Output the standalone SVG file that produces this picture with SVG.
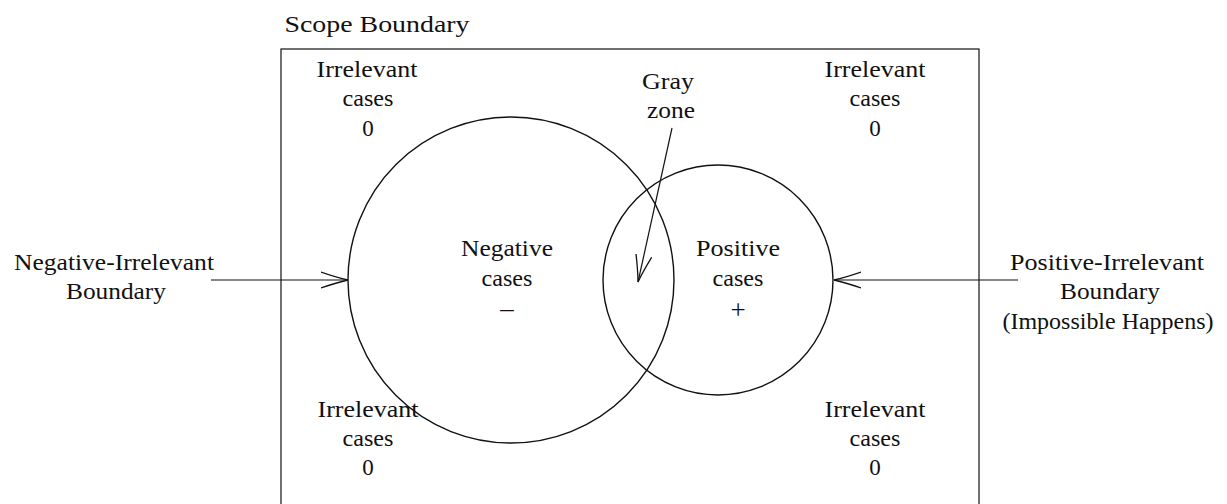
<svg xmlns="http://www.w3.org/2000/svg" width="1227" height="504" viewBox="0 0 1227 504">
<style>
text{font-family:"Liberation Serif","DejaVu Serif",serif;font-size:23px;fill:#111;text-anchor:middle}
.s{fill:none;stroke:#111;stroke-width:1.4}
.c{fill:none;stroke:#111;stroke-width:1.2}
.sym{font-size:27px}
</style>
<defs>
<marker id="v" viewBox="0 0 28 18" refX="27" refY="9" markerWidth="28" markerHeight="18" markerUnits="userSpaceOnUse" orient="auto">
<path d="M0,1 Q16,6.5 27,9 Q16,11.5 0,17" fill="none" stroke="#111" stroke-width="1.3"/>
</marker>
</defs>
<g id="scope">
<rect class="c" x="281" y="49" width="698" height="500"/>
<text x="377" y="32" textLength="185" lengthAdjust="spacingAndGlyphs">Scope Boundary</text>
</g>
<g id="negative">
<circle class="s" cx="511" cy="280" r="163"/>
<text x="507" y="256" textLength="92" lengthAdjust="spacingAndGlyphs">Negative</text>
<text x="507" y="286" textLength="51" lengthAdjust="spacingAndGlyphs">cases</text>
<text x="507" y="317" class="sym">–</text>
</g>
<g id="positive">
<circle class="s" cx="718" cy="280" r="115"/>
<text x="738" y="256" textLength="84" lengthAdjust="spacingAndGlyphs">Positive</text>
<text x="738" y="286" textLength="51" lengthAdjust="spacingAndGlyphs">cases</text>
<text x="738" y="319" class="sym">+</text>
</g>
<g id="irr-tl"><text x="367" y="77" textLength="101" lengthAdjust="spacingAndGlyphs">Irrelevant</text><text x="368" y="106" textLength="51" lengthAdjust="spacingAndGlyphs">cases</text><text x="368" y="136">0</text></g>
<g id="irr-tr"><text x="875" y="77" textLength="101" lengthAdjust="spacingAndGlyphs">Irrelevant</text><text x="875" y="106" textLength="51" lengthAdjust="spacingAndGlyphs">cases</text><text x="875" y="136">0</text></g>
<g id="irr-bl"><text x="368" y="417" textLength="101" lengthAdjust="spacingAndGlyphs">Irrelevant</text><text x="368" y="446" textLength="51" lengthAdjust="spacingAndGlyphs">cases</text><text x="368" y="475">0</text></g>
<g id="irr-br"><text x="875" y="417" textLength="101" lengthAdjust="spacingAndGlyphs">Irrelevant</text><text x="875" y="446" textLength="51" lengthAdjust="spacingAndGlyphs">cases</text><text x="875" y="475">0</text></g>
<g id="grayzone"><text x="668" y="89" textLength="52" lengthAdjust="spacingAndGlyphs">Gray</text><text x="671" y="118" textLength="48" lengthAdjust="spacingAndGlyphs">zone</text></g>
<g id="neg-irr"><text x="114" y="270" textLength="200" lengthAdjust="spacingAndGlyphs">Negative-Irrelevant</text><text x="116" y="299" textLength="100" lengthAdjust="spacingAndGlyphs">Boundary</text></g>
<g id="pos-irr"><text x="1107" y="270" textLength="194" lengthAdjust="spacingAndGlyphs">Positive-Irrelevant</text><text x="1110" y="299" textLength="100" lengthAdjust="spacingAndGlyphs">Boundary</text><text x="1108" y="329" textLength="211" lengthAdjust="spacingAndGlyphs">(Impossible Happens)</text></g>
<g id="connectors">
<line class="c" x1="211" y1="280" x2="348" y2="280" marker-end="url(#v)"/>
<line class="c" x1="1018" y1="280" x2="834" y2="280" marker-end="url(#v)"/>
<line class="c" x1="672" y1="128" x2="638" y2="282" marker-end="url(#v)"/>
</g>
</svg>
